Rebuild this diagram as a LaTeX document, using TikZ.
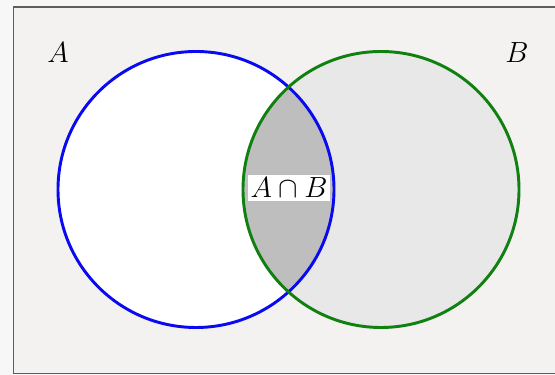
\documentclass[tikz,border=0pt]{standalone}
\usepackage{xcolor}
\usepackage{tikz}
\usetikzlibrary{positioning}

\definecolor{pagegray}{HTML}{F7F7F7}
\definecolor{boxgray}{HTML}{F3F2F1}
\definecolor{framegray}{HTML}{5E5E5E}
\definecolor{fillB}{HTML}{E8E8E8}
\definecolor{fillAB}{HTML}{BEBEBE}
\definecolor{ringA}{HTML}{0A0AF0}
\definecolor{ringB}{HTML}{108010}

\begin{document}
\begin{tikzpicture}[x=0.03cm, y=0.03cm,
		setlabel/.style={font=\fontsize{28}{32}\selectfont},
		caplabel/.style={font=\fontsize{25}{28}\selectfont, fill=white, inner xsep=2pt, inner ysep=3pt}]
			\useasboundingbox (0,0) rectangle (555,375);
			\fill[pagegray] (0,0) rectangle (555,375);
			\draw[framegray, line width=1.5pt, fill=boxgray] (13.5,1.5) rectangle (570,368);
			% the two sets
			\coordinate (cA) at (196,185.5);
			\coordinate (cB) at (381,185.5);
			\fill[white] (cA) circle (138);
			\fill[fillB] (cB) circle (138);
			\begin{scope}
				\clip (cA) circle (138);
				\fill[fillAB] (cB) circle (138);
			\end{scope}
			\draw[ringA, line width=2.5pt] (cA) circle (138);
			\draw[ringB, line width=2.5pt] (cB) circle (138);
			\node[setlabel] (labA) at (58,322) {$A$};
			\node[setlabel] (labB) at (517,322) {$B$};
			\node[caplabel] (labAB) at (289,187) {$A\cap B$};
		\end{tikzpicture}
\end{document}
